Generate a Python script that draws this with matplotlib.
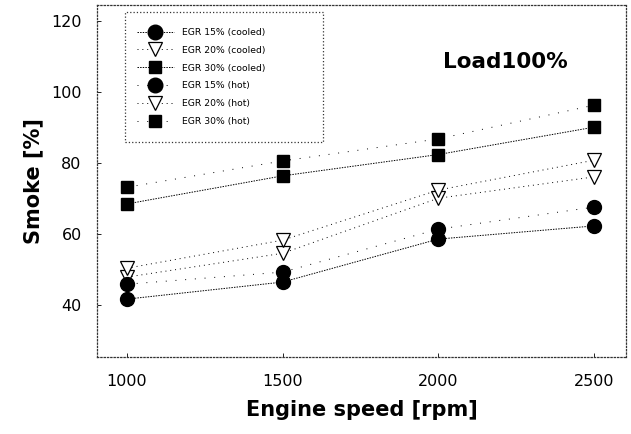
import matplotlib
matplotlib.use("Agg")
import matplotlib.pyplot as plt
from matplotlib.patches import Rectangle

# engine speed [rpm]
speeds = [1000, 1500, 2000, 2500]

# smoke [%]
egr15_cooled = [41.7, 46.5, 58.6, 62.3]
egr20_cooled = [47.9, 54.6, 70.1, 76.1]
egr30_cooled = [68.5, 76.4, 82.4, 90.1]
egr15_hot = [45.9, 49.3, 61.4, 67.6]
egr20_hot = [50.4, 58.3, 72.4, 80.8]
egr30_hot = [73.2, 80.6, 86.8, 96.3]

labels = [
    "EGR 15% (cooled)",
    "EGR 20% (cooled)",
    "EGR 30% (cooled)",
    "EGR 15% (hot)",
    "EGR 20% (hot)",
    "EGR 30% (hot)",
]
yticks = [40, 60, 80, 100, 120]

dense = (0, (1.5, 1.2))
medium = (0, (1.0, 4.0))
sparse = (0, (1.0, 9.0))

fig = plt.figure(figsize=(6.31, 4.34), dpi=100)
ax = fig.add_axes([0.1537, 0.1774, 0.8383, 0.8111])

circle = dict(marker="o", markersize=10, color="black", markerfacecolor="black")
tri = dict(marker="v", markersize=9.5, color="black", markerfacecolor="white",
           markeredgewidth=0.9)
square = dict(marker="s", markersize=8.3, color="black", markerfacecolor="black")

ax.plot(speeds, egr15_cooled, linestyle=dense, linewidth=0.7, label=labels[0], **circle)
ax.plot(speeds, egr20_cooled, linestyle=medium, linewidth=0.7, label=labels[1], **tri)
ax.plot(speeds, egr30_cooled, linestyle=dense, linewidth=0.7, label=labels[2], **square)
ax.plot(speeds, egr15_hot, linestyle=sparse, linewidth=0.7, label=labels[3], **circle)
ax.plot(speeds, egr20_hot, linestyle=medium, linewidth=0.7, label=labels[4], **tri)
ax.plot(speeds, egr30_hot, linestyle=sparse, linewidth=0.7, label=labels[5], **square)

ax.set_xlim(903.6, 2602.8)
ax.set_ylim(25.4, 124.5)
ax.set_xticks(speeds)
ax.set_yticks(yticks)
ax.tick_params(direction="in", length=3, width=0.6, labelsize=11.5, pad=11,
               top=False, right=False)
ax.tick_params(axis="x", pad=12)

for spine in ax.spines.values():
    spine.set_linestyle(":")
    spine.set_linewidth(0.9)
    spine.set_color("#333333")

ax.set_xlabel("Engine speed [rpm]", fontsize=15, fontweight="bold", labelpad=8)
ax.set_ylabel("Smoke [%]", fontsize=15, fontweight="bold", labelpad=6)

ax.text(0.655, 0.838, "Load100%", transform=ax.transAxes, fontsize=15.5,
        fontweight="bold", va="center", ha="left")

leg = ax.legend(loc="upper left", bbox_to_anchor=(0.0454, 0.98), fontsize=6.7,
                handlelength=4.0, handletextpad=0.9, labelspacing=0.95,
                borderpad=1.2, frameon=False, markerscale=1.05)

# wide dotted legend box as in the original
ax.add_patch(Rectangle((0.053, 0.611), 0.374, 0.369, transform=ax.transAxes,
                       fill=False, linestyle=":", linewidth=0.9,
                       edgecolor="#333333", zorder=1))

fig.savefig("out.png", dpi=100)
